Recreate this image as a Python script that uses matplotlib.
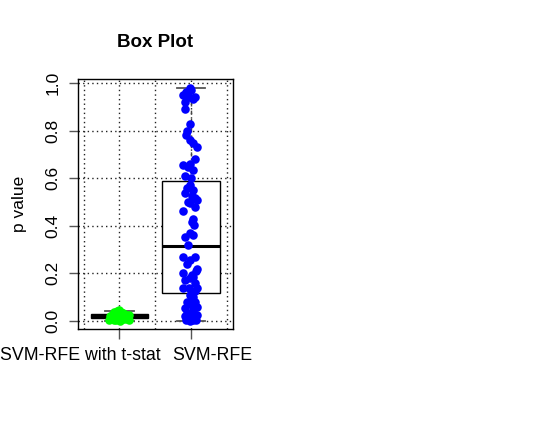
import numpy as np
import matplotlib
matplotlib.use("Agg")
import matplotlib.pyplot as plt
import matplotlib.transforms as mtransforms

plt.rcParams['font.family'] = ['Liberation Sans', 'DejaVu Sans']

groups = ["SVM-RFE with t-stat", "SVM-RFE"]

# box statistics
q1 = [0.011, 0.116]
med = [0.019, 0.316]
q3 = [0.027, 0.588]
whislo = [0.0, 0.0]
whishi = [0.043, 0.98]

# jittered points: horizontal offset from the group centre, p value
green_dx = [-0.14, -0.11, -0.08, -0.05, -0.02, 0.01, 0.04, 0.07, 0.10, 0.13,
            -0.12, -0.09, -0.06, -0.03, 0.0, 0.03, 0.06, 0.09, 0.12,
            -0.10, -0.07, -0.04, -0.01, 0.02, 0.05, 0.08, 0.11,
            -0.05, -0.02, 0.01, 0.04, -0.13, 0.13]
green_p = [0.005, 0.012, 0.003, 0.018, 0.008, 0.001, 0.014, 0.006, 0.010, 0.004,
           0.022, 0.028, 0.025, 0.032, 0.020, 0.027, 0.030, 0.024, 0.016,
           0.009, 0.036, 0.040, 0.044, 0.038, 0.034, 0.021, 0.013,
           0.002, 0.015, 0.029, 0.007, 0.019, 0.026]

blue_dx = [-0.01, -0.07, -0.11, 0.03, -0.08, -0.09, 0.06, 0.0, -0.03,
           -0.01, -0.06, -0.07, -0.01, 0.03, 0.09, 0.06, -0.02, -0.11, 0.03, -0.08, -0.04, 0.0,
           -0.01, 0.03, -0.08, 0.06, -0.04, 0.08, -0.01, 0.02, -0.06, 0.05, -0.11, 0.03, 0.02, 0.04,
           -0.08, 0.03, -0.02, -0.04, -0.11, 0.06, -0.01, -0.06, 0.07, -0.11, 0.08, 0.03, -0.08,
           0.06, -0.01, 0.02, -0.11, 0.08, -0.03, 0.05, -0.01, 0.03, -0.06, 0.06, -0.02, -0.08,
           0.03, 0.08, -0.06, 0.08, 0.0, -0.09, -0.04, 0.05, 0.03, -0.01, -0.07, 0.07]
blue_p = [0.978, 0.963, 0.95, 0.935, 0.92, 0.89, 0.94, 0.97, 0.94,
          0.826, 0.80, 0.78, 0.76, 0.747, 0.73, 0.68, 0.66, 0.655, 0.634, 0.61, 0.645, 0.60,
          0.57, 0.55, 0.536, 0.515, 0.50, 0.508, 0.495, 0.525, 0.56, 0.48, 0.46, 0.43, 0.417, 0.405,
          0.354, 0.36, 0.37, 0.32, 0.27, 0.27, 0.256, 0.24, 0.21, 0.20, 0.22, 0.186, 0.17,
          0.158, 0.18, 0.195, 0.137, 0.137, 0.14, 0.125, 0.11, 0.10, 0.08, 0.08, 0.07, 0.053,
          0.046, 0.06, 0.032, 0.025, 0.035, 0.02, 0.011, 0.012, 0.004, 0.0, 0.003, 0.002]

yticks = [0.0, 0.2, 0.4, 0.6, 0.8, 1.0]

fig = plt.figure(figsize=(5.45, 4.28), dpi=100)
ax = fig.add_axes([0.1431, 0.2313, 0.2844, 0.5841])
ax.set_xlim(0.42, 2.587)
ax.set_ylim(-0.034, 1.017)

# dotted grid underneath everything
for gx in [0.5, 1.0, 1.5, 2.0, 2.5]:
    ax.axvline(gx, color='#222222', lw=1, ls=(0, (1, 2.3)), zorder=0)
for gy in yticks:
    ax.axhline(gy, color='#222222', lw=1, ls=(0, (1, 2.3)), zorder=0)

stats = []
for i in range(len(groups)):
    stats.append({'q1': q1[i], 'med': med[i], 'q3': q3[i],
                  'whislo': whislo[i], 'whishi': whishi[i], 'fliers': []})

ax.bxp(stats, positions=[1, 2], widths=0.8, capwidths=0.4, patch_artist=True,
       showfliers=False,
       boxprops=dict(facecolor='white', edgecolor='black', lw=1),
       medianprops=dict(color='black', lw=2.2),
       whiskerprops=dict(color='#444444', lw=1, ls=(0, (3, 3))),
       capprops=dict(color='#555555', lw=1.3), zorder=2)

ax.scatter([1 + d for d in green_dx], green_p, s=38, color='#00ff00', lw=0, zorder=3)
ax.scatter([2 + d for d in blue_dx], blue_p, s=38, color='#0000ff', lw=0, zorder=3)

for sp in ax.spines.values():
    sp.set_linewidth(1)
    sp.set_color('black')

ax.set_yticks(yticks)
ax.set_yticklabels(['%.1f' % v for v in yticks], rotation=90, va='center', fontsize=12.5)
ax.tick_params(axis='y', length=6.5, width=1, color='#555555', pad=6)
ax.set_xticks([1, 2])
ax.set_xticklabels(['', ''])
ax.tick_params(axis='x', length=7, width=1, color='#555555')

trans = mtransforms.blended_transform_factory(ax.transData, ax.transAxes)
ax.text(1.58, -0.104, groups[0], transform=trans, ha='right', va='center', fontsize=12.8)
ax.text(1.744, -0.104, groups[1], transform=trans, ha='left', va='center', fontsize=12.8)

ax.set_ylabel('p value', fontsize=12.5)
ax.yaxis.set_label_coords(-0.33, 0.5)
ax.text(0.5, 1.148, 'Box Plot', transform=ax.transAxes, ha='center', va='center',
        fontsize=13.5, fontweight='bold')

fig.savefig('out.png', dpi=100)
